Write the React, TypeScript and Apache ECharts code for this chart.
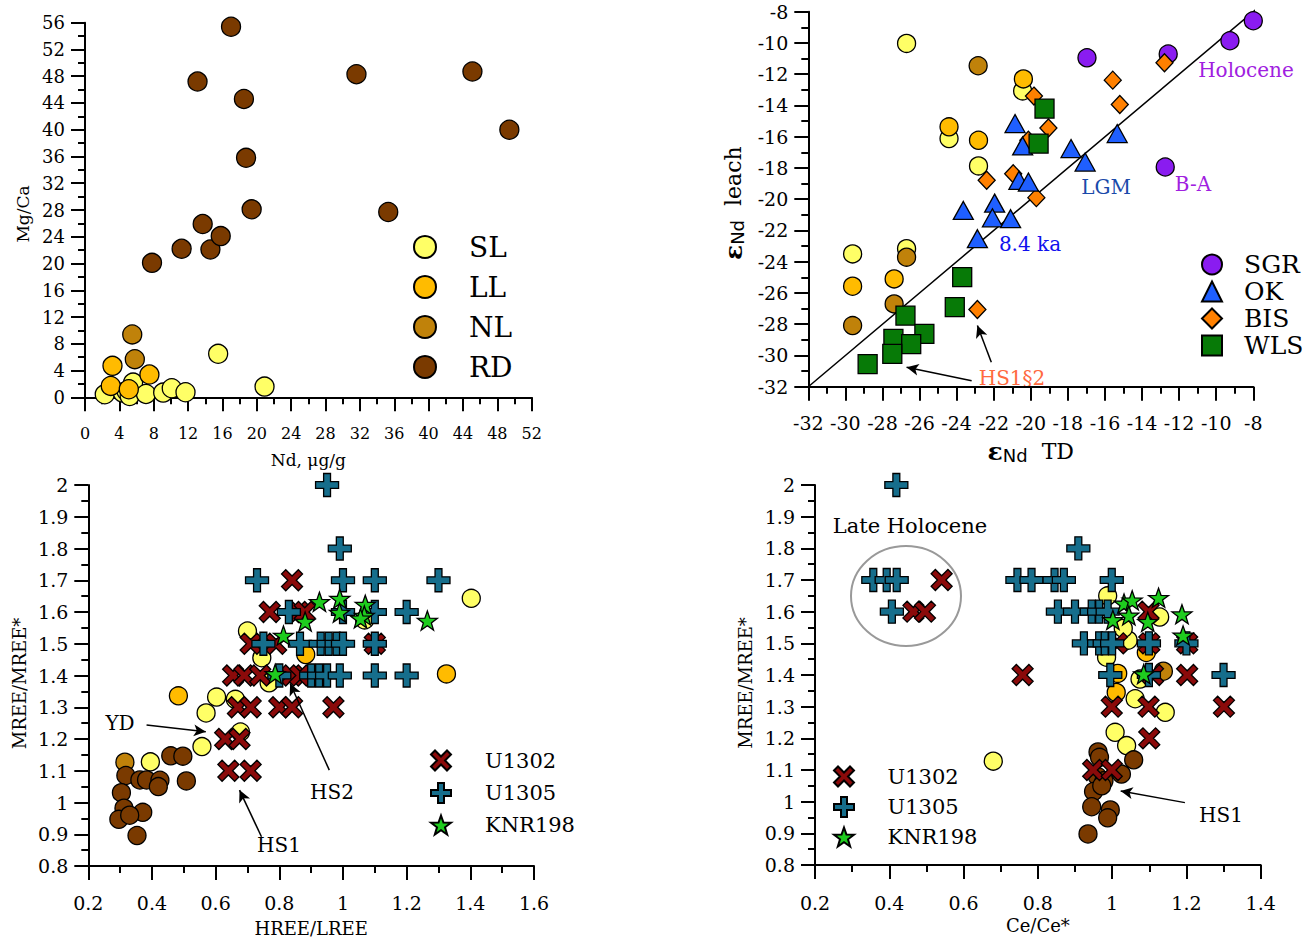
import React, { useEffect, useRef } from 'react';
import * as echarts from 'echarts';

// ---------- Panel 1: Nd (µg/g) vs Mg/Ca ----------
const p1SL = [[2.3, 0.45], [4.4, 0.7], [4.85, 0.9], [5.2, 0.2], [5.6, 2.2], [7.1, 0.5], [9.1, 0.7], [10.1, 1.35], [11.7, 0.75], [15.5, 6.5], [20.9, 1.6]];
const p1LL = [[3.0, 1.7], [3.2, 4.7], [5.1, 1.2], [7.5, 3.4]];
const p1NL = [[5.5, 9.4], [5.8, 5.7]];
const p1RD = [[7.8, 20.1], [11.25, 22.2], [13.1, 47.2], [13.7, 25.9], [14.6, 22.1], [15.8, 24.1], [17.0, 55.4], [18.5, 44.6], [18.75, 35.8], [19.4, 28.1], [31.6, 48.3], [35.3, 27.7], [45.1, 48.7], [49.4, 40.0]];

// ---------- Panel 2: eNd TD vs eNd leach ----------
const p2SGR = [[-8.0, -8.58], [-9.26, -9.86], [-12.59, -10.71], [-16.97, -10.95], [-12.75, -17.94]];
const p2OK = [[-20.85, -15.16], [-20.44, -16.59], [-15.34, -15.8], [-17.83, -16.76], [-17.07, -17.62], [-20.64, -18.79], [-20.13, -18.9], [-23.64, -20.72], [-21.95, -20.25], [-22.07, -21.19], [-21.09, -21.25], [-22.88, -22.53]];
const p2BIS = [[-12.79, -11.27], [-15.58, -12.38], [-15.2, -13.94], [-19.83, -13.4], [-19.05, -15.44], [-20.13, -16.23], [-20.95, -18.37], [-22.38, -18.79], [-19.7, -19.9], [-22.88, -27.06]];
const p2WLS = [[-19.26, -14.2], [-19.58, -16.44], [-23.7, -24.99], [-24.1, -26.91], [-26.76, -27.45], [-25.74, -28.62], [-27.41, -28.94], [-26.45, -29.27], [-27.47, -29.9], [-28.8, -30.55]];
const p2SL = [[-26.7, -10.03], [-20.44, -13.07], [-24.41, -16.12], [-22.82, -17.87], [-29.61, -23.5], [-26.7, -23.17]];
const p2LL = [[-20.4, -12.3], [-24.41, -15.37], [-22.82, -16.23], [-27.37, -25.1], [-29.61, -25.57]];
const p2NL = [[-22.84, -11.46], [-26.7, -23.71], [-27.37, -26.7], [-29.61, -28.09]];
const p2OneToOne = [[-32, -32], [-7.7, -7.7]];
const p2Arrows = [[[-22.13, -30.44], [-22.88, -28.09]], [[-23.19, -31.62], [-26.7, -30.76]]];

// ---------- Panel 3: HREE/LREE vs MREE/MREE* ----------
const p3U1302 = [[0.84, 1.7], [0.77, 1.6], [0.86, 1.6], [0.88, 1.6], [0.71, 1.5], [0.79, 1.5], [1.1, 1.5], [0.655, 1.4], [0.69, 1.4], [0.74, 1.4], [0.84, 1.4], [0.865, 1.4], [0.67, 1.3], [0.71, 1.3], [0.8, 1.3], [0.84, 1.3], [0.97, 1.3], [0.63, 1.2], [0.675, 1.2], [0.64, 1.1], [0.71, 1.1]];
const p3U1305 = [[0.95, 2.0], [0.99, 1.8], [0.73, 1.7], [1.0, 1.7], [1.1, 1.7], [1.3, 1.7], [0.83, 1.6], [1.0, 1.6], [1.1, 1.6], [1.2, 1.6], [0.75, 1.5], [0.865, 1.5], [0.93, 1.5], [0.955, 1.5], [0.98, 1.5], [1.0, 1.5], [1.1, 1.5], [0.8, 1.4], [0.9, 1.4], [0.925, 1.4], [0.95, 1.4], [0.99, 1.4], [1.1, 1.4], [1.2, 1.4]];
const p3KNR198 = [[0.926, 1.632], [0.99, 1.642], [1.07, 1.623], [0.989, 1.598], [1.067, 1.589], [0.881, 1.57], [1.265, 1.573], [0.813, 1.526], [0.787, 1.405], [1.055, 1.58]];
const p3SL = [[1.403, 1.643], [0.7, 1.54], [0.745, 1.456], [0.768, 1.377], [1.068, 1.575], [0.603, 1.332], [0.662, 1.325], [0.57, 1.282], [0.678, 1.222], [0.557, 1.176], [0.395, 1.128]];
const p3LL = [[0.483, 1.336], [0.883, 1.466], [1.325, 1.405]];
const p3NL = [[0.315, 1.127]];
const p3RD = [[0.318, 1.085], [0.362, 1.071], [0.383, 1.071], [0.425, 1.07], [0.42, 1.05], [0.459, 1.147], [0.497, 1.146], [0.508, 1.068], [0.304, 1.031], [0.312, 0.982], [0.296, 0.947], [0.371, 0.969], [0.353, 0.896], [0.33, 0.96]];
const p3Arrows = [[[0.383, 1.244], [0.569, 1.223]], [[0.957, 1.102], [0.834, 1.375]], [[0.744, 0.892], [0.675, 1.039]]];

// ---------- Panel 4: Ce/Ce* vs MREE/MREE* ----------
const p4U1302 = [[0.541, 1.7], [0.465, 1.6], [0.496, 1.6], [0.759, 1.4], [1.098, 1.6], [1.202, 1.5], [1.1, 1.5], [1.013, 1.5], [1.202, 1.4], [1.11, 1.4], [0.999, 1.3], [1.098, 1.3], [1.301, 1.3], [1.1, 1.2], [0.949, 1.1], [0.999, 1.1]];
const p4U1305 = [[0.419, 2.0], [0.909, 1.8], [0.357, 1.7], [0.393, 1.7], [0.42, 1.7], [0.407, 1.6], [0.745, 1.7], [0.783, 1.7], [0.845, 1.7], [0.87, 1.7], [0.999, 1.7], [0.854, 1.6], [0.9, 1.6], [0.945, 1.6], [0.965, 1.6], [0.988, 1.6], [0.924, 1.5], [0.965, 1.5], [0.98, 1.5], [1.0, 1.5], [1.099, 1.5], [1.2, 1.5], [0.995, 1.4], [1.099, 1.4], [1.3, 1.4]];
const p4KNR198 = [[1.125, 1.644], [1.188, 1.592], [1.191, 1.525], [1.032, 1.626], [1.054, 1.636], [1.002, 1.574], [1.045, 1.588], [1.096, 1.568], [1.085, 1.403]];
const p4SL = [[0.68, 1.128], [0.988, 1.65], [1.128, 1.583], [1.043, 1.51], [1.03, 1.547], [0.985, 1.456], [1.075, 1.387], [1.062, 1.325], [1.143, 1.282], [1.008, 1.219], [1.039, 1.177]];
const p4LL = [[1.092, 1.471], [1.015, 1.405], [1.011, 1.345]];
const p4NL = [[1.138, 1.412]];
const p4RD = [[0.962, 1.157], [1.058, 1.132], [1.025, 1.087], [0.96, 1.08], [0.978, 1.066], [0.95, 1.032], [0.945, 0.984], [0.995, 0.974], [0.988, 0.949], [0.935, 0.898], [0.972, 1.05], [0.966, 1.14]];
const p4Arrows = [[[1.196, 0.997], [1.023, 1.034]]];

// ---------- Legends ----------
const legend1Names = ['SL', 'LL', 'NL', 'RD'];
const legend2Names = ['SGR', 'OK', 'BIS', 'WLS'];
const legend3Names = ['U1302', 'U1305', 'KNR198'];

// ---------- Styles ----------
const SERIF = 'DejaVu Serif';
const SANS = 'DejaVu Sans';
const COL = {
  SL: '#FFFF66', LL: '#FFBB00', NL: '#C0820A', RD: '#7A3A00',
  SGR: '#8A1CF0', OK: '#1F5FFF', BIS: '#FF8000', WLS: '#077A07',
  U1302: '#8B0A0A', U1305: '#166E8C', KNR198: '#1ECC1E',
};
const X_PATH = 'path://M0,4 L4,0 L10,6 L16,0 L20,4 L14,10 L20,16 L16,20 L10,14 L4,20 L0,16 L6,10 Z';
const PLUS_PATH = 'path://M7,0 L13,0 L13,7 L20,7 L20,13 L13,13 L13,20 L7,20 L7,13 L0,13 L0,7 L7,7 Z';
const STAR_PATH = 'path://M10,0 L12.35,6.76 L19.51,6.91 L13.8,11.24 L15.88,18.09 L10,14 L4.12,18.09 L6.2,11.24 L0.49,6.91 L7.65,6.76 Z';

function axis(kind: 'x' | 'y', gi: number, min: number, max: number, interval: number, fontSize: number, margin: number, name: any, nameGap: number, nameStyle: any) {
  return {
    type: 'value', gridIndex: gi, min, max, interval,
    position: kind === 'x' ? 'bottom' : 'left',
    axisLine: { show: true, onZero: false, lineStyle: { color: '#000', width: 2 } },
    axisTick: { show: true, length: 14, lineStyle: { color: '#000', width: 2 } },
    minorTick: { show: true, splitNumber: 2, length: 7, lineStyle: { color: '#000', width: 2 } },
    splitLine: { show: false }, minorSplitLine: { show: false },
    axisLabel: { color: '#000', fontSize, fontFamily: SERIF, margin },
    name, nameLocation: 'middle', nameGap,
    nameRotate: kind === 'y' ? 90 : 0,
    nameTextStyle: Object.assign({ color: '#000', fontFamily: SERIF }, nameStyle),
  };
}

function sc(name: string, data: number[][], gi: number, symbol: string, size: any, color: string) {
  return {
    type: 'scatter', name, data, xAxisIndex: gi, yAxisIndex: gi,
    symbol, symbolSize: size, symbolKeepAspect: true,
    itemStyle: { color, borderColor: '#000', borderWidth: 1.3, opacity: 1 },
    emphasis: { disabled: true }, silent: true,
  };
}

function arrows(gi: number, segs: number[][][]) {
  return {
    type: 'scatter', xAxisIndex: gi, yAxisIndex: gi, data: [], silent: true,
    markLine: {
      silent: true, animation: false,
      symbol: ['none', 'arrow'], symbolSize: [9, 12],
      lineStyle: { color: '#000', width: 1.5, type: 'solid' },
      label: { show: false },
      emphasis: { disabled: true },
      data: segs.map((s) => [{ coord: s[0] }, { coord: s[1] }]),
    },
  };
}

function legendCfg(names: string[], left: number, top: number, size: number, fontSize: number, gap: number, pad: number) {
  return {
    data: names, orient: 'vertical', left, top, padding: 0, itemWidth: size, itemHeight: size, itemGap: gap,
    selectedMode: false,
    textStyle: { color: '#000', fontSize, fontFamily: SERIF, lineHeight: fontSize, padding: [0, 0, 0, pad] },
  };
}

const epsRich = {
  e: { fontFamily: SERIF, fontWeight: 'bold', fontSize: 25, color: '#000' },
  s: { fontFamily: SANS, fontSize: 18, color: '#000', padding: [8, 0, 0, 0] },
  t: { fontFamily: SERIF, fontSize: 22, color: '#000' },
};

function txt(text: string, x: number, y: number, color: string, fontSize: number) {
  return {
    type: 'text', x, y, silent: true,
    style: { text, fill: color, fontSize, fontFamily: SERIF, textAlign: 'center', textVerticalAlign: 'middle' },
  };
}

const option: any = {
  animation: false,
  backgroundColor: '#fff',
  textStyle: { fontFamily: SERIF },
  grid: [
    { left: 85, top: 22.7, width: 446.7, height: 374.6, outerBoundsMode: 'none' },
    { left: 808.3, top: 11.7, width: 445, height: 375, outerBoundsMode: 'none' },
    { left: 88.3, top: 485, width: 445.7, height: 381, outerBoundsMode: 'none' },
    { left: 815, top: 485, width: 445.7, height: 380, outerBoundsMode: 'none' },
  ],
  xAxis: [
    axis('x', 0, 0, 52, 4, 16, 28, 'Nd, μg/g', 54, { fontSize: 17 }),
    axis('x', 1, -32, -8, 2, 19, 27, '{e|ε}{s|Nd}{t|  TD}', 52, { rich: epsRich }),
    axis('x', 2, 0.2, 1.6, 0.2, 19, 27, 'HREE/LREE', 53, { fontSize: 18 }),
    axis('x', 3, 0.2, 1.4, 0.2, 19, 28, 'Ce/Ce*', 51, { fontSize: 18 }),
  ],
  yAxis: [
    axis('y', 0, 0, 56, 4, 18, 20, 'Mg/Ca', 54, { fontSize: 17, padding: [0, 8, 0, 0] }),
    axis('y', 1, -32, -8, 2, 19, 20, '{e|ε}{s|Nd}{t|  leach}', 62, { rich: epsRich, padding: [0, 8, 0, 0] }),
    axis('y', 2, 0.8, 2, 0.1, 19, 20, 'MREE/MREE*', 60, { fontSize: 18, padding: [0, 16, 0, 0] }),
    axis('y', 3, 0.8, 2, 0.1, 19, 20, 'MREE/MREE*', 61, { fontSize: 18, padding: [0, 16, 0, 0] }),
  ],
  legend: [
    legendCfg(legend1Names, 413, 233, 22, 28, 12, 28),
    legendCfg(legend2Names, 1201, 252, 20, 25, 2, 17),
    legendCfg(legend3Names, 430, 749.5, 20, 21, 10.5, 29),
    legendCfg(legend3Names, 833, 765.5, 20, 21, 8.5, 28.5),
  ],
  series: [
    // panel 1
    sc('SL', p1SL, 0, 'circle', 19, COL.SL),
    sc('LL', p1LL, 0, 'circle', 19, COL.LL),
    sc('NL', p1NL, 0, 'circle', 19, COL.NL),
    sc('RD', p1RD, 0, 'circle', 19, COL.RD),
    // panel 2
    {
      type: 'line', xAxisIndex: 1, yAxisIndex: 1, data: p2OneToOne, symbol: 'none', clip: false,
      lineStyle: { color: '#000', width: 1.5 }, silent: true, z: 1,
    },
    sc('SGR', p2SGR, 1, 'circle', 18, COL.SGR),
    sc('SL', p2SL, 1, 'circle', 18, COL.SL),
    sc('LL', p2LL, 1, 'circle', 18, COL.LL),
    sc('NL', p2NL, 1, 'circle', 18, COL.NL),
    sc('BIS', p2BIS, 1, 'diamond', [17, 18], COL.BIS),
    sc('OK', p2OK, 1, 'triangle', [20, 18], COL.OK),
    sc('WLS', p2WLS, 1, 'rect', 19, COL.WLS),
    arrows(1, p2Arrows),
    // panel 3
    sc('SL', p3SL, 2, 'circle', 18, COL.SL),
    sc('LL', p3LL, 2, 'circle', 18, COL.LL),
    sc('NL', p3NL, 2, 'circle', 18, COL.NL),
    sc('RD', p3RD, 2, 'circle', 18, COL.RD),
    sc('U1302', p3U1302, 2, X_PATH, 21, COL.U1302),
    sc('U1305', p3U1305, 2, PLUS_PATH, 23, COL.U1305),
    sc('KNR198', p3KNR198, 2, STAR_PATH, 20, COL.KNR198),
    arrows(2, p3Arrows),
    // panel 4
    sc('SL', p4SL, 3, 'circle', 18, COL.SL),
    sc('LL', p4LL, 3, 'circle', 18, COL.LL),
    sc('NL', p4NL, 3, 'circle', 18, COL.NL),
    sc('RD', p4RD, 3, 'circle', 18, COL.RD),
    sc('U1302', p4U1302, 3, X_PATH, 21, COL.U1302),
    sc('U1305', p4U1305, 3, PLUS_PATH, 23, COL.U1305),
    sc('KNR198', p4KNR198, 3, STAR_PATH, 20, COL.KNR198),
    arrows(3, p4Arrows),
  ],
  graphic: [
    txt('Holocene', 1246, 70, '#A020E0', 20),
    txt('B-A', 1193, 184, '#A020E0', 20),
    txt('LGM', 1106, 187, '#1A4AAA', 20),
    txt('8.4 ka', 1030, 244, '#1010EE', 20),
    txt('HS1§2', 1012, 378, '#FF6A40', 20),
    txt('YD', 120, 723, '#000', 20),
    txt('HS2', 332, 792, '#000', 20),
    txt('HS1', 279, 845, '#000', 20),
    txt('Late Holocene', 910, 526, '#000', 21),
    txt('HS1', 1221, 815, '#000', 20),
    {
      type: 'ellipse', silent: true,
      shape: { cx: 906, cy: 596, rx: 55, ry: 50 },
      style: { fill: 'none', stroke: '#999', lineWidth: 2 },
    },
  ],
};

export default function App() {
  const ref = useRef<HTMLDivElement>(null);
  useEffect(() => {
    document.body.style.margin = '0';
    const chart = echarts.init(ref.current as HTMLDivElement, null, { renderer: 'svg' });
    chart.setOption(option);
    return () => chart.dispose();
  }, []);
  return <div ref={ref} style={{ width: 1313, height: 941 }} />;
}
